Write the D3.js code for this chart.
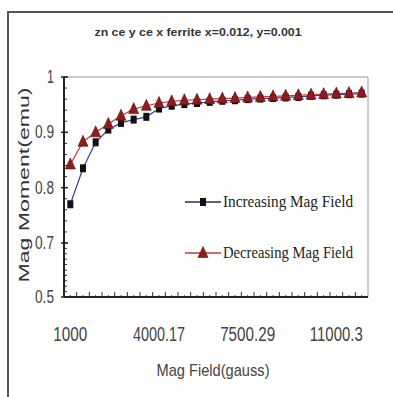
<!DOCTYPE html>
<html>
<head>
<meta charset="utf-8">
<script src="https://cdn.jsdelivr.net/npm/d3@7"></script>
<style>
  html, body { margin: 0; padding: 0; background: #fff; }
  svg { display: block; }
</style>
</head>
<body>
<svg id="chart" width="393" height="397"></svg>
<script>
// category labels of the field axis (gauss)
const fields = [
  "1000", "1500.02", "2000.04", "2500.07", "3000.1", "3500.12", "3750.15",
  "4000.17", "4500.19", "5000.2", "5500.22", "6000.24", "6500.25", "7000.27",
  "7500.29", "8000.3", "8500.3", "9000.3", "9500.3", "10000.3", "10500.3",
  "11000.3", "11500.3", "12000.3"
];
const labelEvery = 7;

const increasing = [
  0.77, 0.835, 0.882, 0.905, 0.917, 0.923, 0.928, 0.943, 0.948, 0.951, 0.953, 0.955,
  0.957, 0.958, 0.96, 0.961, 0.962, 0.963, 0.964, 0.966, 0.967, 0.968, 0.969, 0.97
];
const decreasing = [
  0.842, 0.883, 0.9, 0.915, 0.93, 0.942, 0.948, 0.953, 0.956, 0.958, 0.959, 0.96,
  0.961, 0.962, 0.963, 0.964, 0.965, 0.966, 0.967, 0.968, 0.969, 0.97, 0.971, 0.972
];

const yTicks = [1, 0.9, 0.8, 0.7, 0.5];
const seriesNames = ["Increasing Mag Field", "Decreasing Mag Field"];

const svg = d3.select("#chart");
const plot = { left: 64, right: 368, top: 77, bottom: 297 };

// the picture's value axis is squeezed below 0.7
const y = d3.scaleLinear()
  .domain([0.5, 0.7, 1])
  .range([plot.bottom, 243, plot.top]);

const x = d3.scaleBand()
  .domain(fields)
  .range([plot.left, plot.right])
  .padding(0);
const cx = (i) => x(fields[i]) + x.bandwidth() / 2;

// squeeze text to the narrow look of the picture
function fitText(sel, width) {
  sel.attr("textLength", width).attr("lengthAdjust", "spacingAndGlyphs");
}

// outer frame
svg.append("path")
  .attr("d", "M8,397 L8,12 L393,12")
  .attr("fill", "none")
  .attr("stroke", "#555")
  .attr("stroke-width", 2);

// title
svg.append("text")
  .attr("x", 198)
  .attr("y", 36)
  .attr("text-anchor", "middle")
  .attr("font-family", "Arial, 'Liberation Sans', sans-serif")
  .attr("font-weight", "bold")
  .attr("font-size", 11)
  .attr("fill", "#333")
  .text("zn ce y ce x ferrite x=0.012, y=0.001")
  .call(fitText, 207);

// plot border (top/right gray)
svg.append("path")
  .attr("d", `M${plot.left},${plot.top} L${plot.right},${plot.top} L${plot.right},${plot.bottom}`)
  .attr("fill", "none")
  .attr("stroke", "#999")
  .attr("stroke-width", 1);

// y axis
const yMinor = d3.range(0.5, 1.0001, 0.02);
svg.append("g")
  .selectAll("line")
  .data(yMinor)
  .join("line")
  .attr("x1", plot.left)
  .attr("x2", plot.left + 3)
  .attr("y1", (d) => y(d))
  .attr("y2", (d) => y(d))
  .attr("stroke", "#333");

svg.append("g")
  .selectAll("line")
  .data(yTicks)
  .join("line")
  .attr("x1", plot.left - 3)
  .attr("x2", plot.left + 4)
  .attr("y1", (d) => y(d))
  .attr("y2", (d) => y(d))
  .attr("stroke", "#222")
  .attr("stroke-width", 1.5);

svg.append("g")
  .selectAll("text")
  .data(yTicks)
  .join("text")
  .attr("x", 54)
  .attr("y", (d) => y(d) + 6)
  .attr("text-anchor", "end")
  .attr("font-family", "Arial, 'Liberation Sans', sans-serif")
  .attr("font-size", 18)
  .attr("fill", "#444")
  .text((d) => String(d))
  .each(function (d) {
    d3.select(this).call(fitText, String(d).length === 1 ? 7 : 19);
  });

svg.append("line")
  .attr("x1", plot.left)
  .attr("x2", plot.left)
  .attr("y1", plot.top)
  .attr("y2", plot.bottom)
  .attr("stroke", "#222")
  .attr("stroke-width", 2);

// x axis
svg.append("g")
  .selectAll("line")
  .data(fields)
  .join("line")
  .attr("x1", (d) => x(d))
  .attr("x2", (d) => x(d))
  .attr("y1", plot.bottom)
  .attr("y2", plot.bottom - 5)
  .attr("stroke", "#333");

svg.append("g")
  .selectAll("line")
  .data(fields)
  .join("line")
  .attr("x1", (d) => x(d) + x.bandwidth() / 2)
  .attr("x2", (d) => x(d) + x.bandwidth() / 2)
  .attr("y1", plot.bottom)
  .attr("y2", plot.bottom - 2)
  .attr("stroke", "#555");

svg.append("line")
  .attr("x1", plot.left)
  .attr("x2", plot.right)
  .attr("y1", plot.bottom)
  .attr("y2", plot.bottom)
  .attr("stroke", "#222")
  .attr("stroke-width", 2);

const xLabelWidths = { 1000: 34, "4000.17": 52, "7500.29": 55, "11000.3": 53 };
svg.append("g")
  .selectAll("text")
  .data(fields.filter((d, i) => i % labelEvery === 0))
  .join("text")
  .attr("x", (d) => x(d) + x.bandwidth() / 2)
  .attr("y", 341)
  .attr("text-anchor", "middle")
  .attr("font-family", "Arial, 'Liberation Sans', sans-serif")
  .attr("font-size", 20)
  .attr("fill", "#444")
  .text((d) => d)
  .each(function (d) {
    d3.select(this).call(fitText, xLabelWidths[d] || 50);
  });

// axis titles
svg.append("text")
  .attr("x", 213)
  .attr("y", 376)
  .attr("text-anchor", "middle")
  .attr("font-family", "Arial, 'Liberation Sans', sans-serif")
  .attr("font-size", 17)
  .attr("fill", "#444")
  .text("Mag Field(gauss)")
  .call(fitText, 113);

svg.append("text")
  .attr("transform", "translate(29,185) rotate(-90)")
  .attr("text-anchor", "middle")
  .attr("font-family", "Arial, 'Liberation Sans', sans-serif")
  .attr("font-size", 15)
  .attr("fill", "#333")
  .text("Mag Moment(emu)")
  .call(fitText, 195);

// series lines
const line = (values) =>
  d3.line()
    .x((d, i) => cx(i))
    .y((d) => y(d))(values);

svg.append("path")
  .attr("d", line(increasing))
  .attr("fill", "none")
  .attr("stroke", "#3a3a9a")
  .attr("stroke-width", 1.2);

svg.append("path")
  .attr("d", line(decreasing))
  .attr("fill", "none")
  .attr("stroke", "#c43a3a")
  .attr("stroke-width", 1.2);

const triPath = "M0,-6.5 L5,4.5 L-5,4.5 Z";

svg.append("g")
  .selectAll("rect")
  .data(increasing)
  .join("rect")
  .attr("x", (d, i) => cx(i) - 3)
  .attr("y", (d) => y(d) - 4)
  .attr("width", 6)
  .attr("height", 8)
  .attr("fill", "#111");

svg.append("g")
  .selectAll("path")
  .data(decreasing)
  .join("path")
  .attr("d", triPath)
  .attr("transform", (d, i) => `translate(${cx(i)},${y(d)})`)
  .attr("fill", "#8e1c1c")
  .attr("stroke", "#5a0d0d")
  .attr("stroke-width", 0.6);

// legend
const legendY = [202, 253];
const legend = svg.append("g")
  .selectAll("g")
  .data(seriesNames)
  .join("g")
  .attr("transform", (d, i) => `translate(185,${legendY[i]})`);

legend.append("line")
  .attr("x1", 0)
  .attr("x2", 36)
  .attr("stroke", (d, i) => (i === 0 ? "#2a2a6e" : "#c43a3a"))
  .attr("stroke-width", 1.5);

legend.filter((d, i) => i === 0)
  .append("rect")
  .attr("x", 15)
  .attr("y", -4)
  .attr("width", 6)
  .attr("height", 8)
  .attr("fill", "#111");

legend.filter((d, i) => i === 1)
  .append("path")
  .attr("d", triPath)
  .attr("transform", "translate(18,0)")
  .attr("fill", "#8e1c1c")
  .attr("stroke", "#5a0d0d")
  .attr("stroke-width", 0.6);

legend.append("text")
  .attr("x", 38)
  .attr("y", 5)
  .attr("font-family", "'Liberation Serif', 'DejaVu Serif', serif")
  .attr("font-size", 16)
  .attr("fill", "#222")
  .text((d) => d)
  .each(function () {
    d3.select(this).call(fitText, 130);
  });
</script>
</body>
</html>
